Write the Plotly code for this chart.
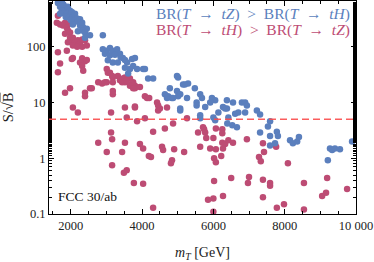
import plotly.graph_objects as go

# Blue: BR(T->tZ) > BR(T->tH)
blue_m = [1640, 1750, 1700, 1800, 1860, 1750, 1920, 1980, 1800, 1890, 1980, 2030, 1860, 1950, 2060, 2000, 2120, 1700, 2120, 1780,
          2180, 2200, 2060, 2260, 2340, 2450, 2320, 2400, 2200, 2540, 2400, 2900, 2260, 2320,
          2900, 3010, 3100, 3180, 3300, 3380, 2960, 3100, 3240, 3040, 3180, 3320, 3460, 3580, 3720, 3800, 3750, 3660, 3860, 4030,
          3610, 4170, 3520, 4080, 4310, 3400, 3520,
          4980, 5010, 5150, 5290, 4780, 4980, 5010, 4640, 4830, 4700, 5260, 4730, 4870, 5070, 5200, 5070,
          5480, 5630, 5680, 5530, 5960, 6050, 5910, 6380, 6550, 6800, 6890, 6270, 6380, 5770, 5530, 5070, 5630, 5630, 6000, 6050,
          6140, 6330, 6420, 6390, 6530, 6660, 6610, 6700, 6890, 6940, 7220, 7310,
          7590, 7530, 7310, 7590, 7780, 7810, 7730, 7590, 8150, 8230, 8350, 8400,
          9210, 9270, 9330, 9410, 9550, 9890]
blue_s = [610, 630, 520, 560, 470, 450, 520, 440, 400, 390, 370, 420, 340, 330, 340, 300, 390, 390, 300, 580,
          320, 280, 250, 240, 225, 210, 195, 180, 190, 160, 145, 160, 310, 270,
          90, 85, 95, 85, 90, 75, 75, 70, 72, 57, 52, 52, 63, 52, 60, 63, 45, 40, 40, 40,
          33, 27, 42, 40, 27, 65, 58,
          30, 28, 21, 22, 18, 16, 13, 14, 12, 12, 12, 13, 12, 14, 21, 7.8,
          18, 14, 12, 10, 12, 11, 10, 11, 10, 10, 10, 8.3, 7.8, 8.3, 8.8, 7.2, 5.9, 5.2, 5.4, 4.8,
          6.6, 7.8, 5.4, 4.2, 3.9, 3.6, 6.3, 6.6, 6.6, 8.8, 7.2, 6.1,
          4.6, 3.7, 2.9, 2.5, 3.0, 2.5, 1.85, 1.7, 2.1, 1.85, 2.0, 2.4,
          0.92, 1.5, 1.4, 1.5, 1.45, 2.0]

# Red: BR(T->tH) > BR(T->tZ)
red_m = [1640, 1610, 1700, 1840, 1920, 1780, 1890, 1920, 1840, 1980, 1980, 2060, 2030, 1920, 2120, 2200, 2060, 2260, 2180, 2320,
         2400, 2450, 2320,
         1640, 1890, 1700, 1640, 2060, 2030, 2320, 2400, 2450, 2260, 2320, 2350,
         2540, 2590, 2400, 2400, 1980, 1840, 2060, 2200,
         2880, 3010, 2960, 3180, 3180, 3010, 3100, 3040, 3180, 3320, 3160, 3380, 3460, 3520, 3440, 3520, 3660, 3750, 3800, 3940,
         3800, 3720, 3570, 3660, 3750, 3180, 2770,
         3800, 4140, 4080, 4420, 4500, 4200, 4450, 4450, 4700,
         3130, 3520, 3800, 3570, 3860, 4080, 5260,
         3130, 3160, 2770, 3010, 3520, 3440, 3940, 4030, 4190, 4250, 3160, 3570, 3490, 3770, 4030, 4310,
         4310, 4640, 4870, 5570, 5710, 5740, 5770, 5800, 6070, 6250, 6250, 6000, 6250, 6330, 6420, 6550, 5630, 5910, 6070, 6270,
         4560, 4590, 4900, 5180, 4840, 4810, 6220, 6020, 6070,
         6500, 6020, 7000, 6970, 6270, 6000, 5850, 6000,
         6940, 7390, 7420, 7280, 7330, 7760, 8090, 7390, 7590, 7590, 7390, 7780, 7980, 8540, 8540, 9190, 9050, 9160, 9750]
red_s = [360, 270, 250, 270, 250, 240, 220, 195, 170, 180, 145, 145, 130, 120, 120, 130, 105, 115, 100, 100,
         130, 105, 135,
         80, 85, 50, 35, 63, 60, 62, 55, 58, 52, 45, 37,
         18, 18, 15, 13, 18, 15, 8.1, 6.6,
         22, 23, 23, 16, 14, 40, 34, 34, 28, 30, 30, 25, 27, 23, 23, 28, 27, 23, 20, 19,
         18, 22, 25, 20, 18, 23, 23,
         8.1, 12, 13, 10, 7.8, 12, 8.8, 7.2, 8.1,
         6.6, 8.1, 8.5, 5.4, 4.6, 5.2, 5.2,
         2.9, 2.2, 1.9, 1.3, 1.9, 1.3, 1.8, 1.5, 1.1, 1.05, 0.75, 0.61, 0.55, 0.36, 0.35, 0.13,
         3.0, 3.4, 4.2, 2.9, 3.6, 3.3, 2.9, 2.3, 3.4, 3.3, 2.8, 2.3, 1.9, 1.8, 2.1, 1.9, 1.6, 1.5, 1.45, 1.5,
         1.6, 1.4, 1.45, 1.3, 0.92, 0.81, 1.1, 1.0, 0.85,
         0.44, 0.39, 0.46, 0.36, 0.21, 0.19, 0.18, 0.11,
         2.2, 1.85, 1.3, 1.05, 0.88, 1.6, 0.81, 0.41, 0.36, 0.32, 0.2, 0.13, 0.15, 0.36, 0.12, 0.44, 0.21, 0.24, 0.28]

threshold = 5
x_ticks = [2000, 4000, 6000, 8000, 10000]
x_labels = ["2000", "4000", "6000", "8000", "10 000"]
y_ticks = [0.1, 1, 10, 100]
y_labels = ["0.1", "1", "10", "100"]
legend_blue = "BR(<i>T</i>\u2002→\u2002<i>tZ</i>)\u2002>\u2002BR(<i>T</i>\u2002→\u2002<i>tH</i>)"
legend_red = "BR(<i>T</i>\u2002→\u2002<i>tH</i>)\u2002>\u2002BR(<i>T</i>\u2002→\u2002<i>tZ</i>)"

BLUE = "#5b7fbd"
RED = "#bd4c74"
FONT = "Liberation Serif"
TXT = "#222222"

fig = go.Figure()
fig.add_trace(go.Scatter(x=red_m, y=red_s, mode="markers",
                         marker=dict(color=RED, size=6.5), showlegend=False))
fig.add_trace(go.Scatter(x=blue_m, y=blue_s, mode="markers",
                         marker=dict(color=BLUE, size=6.5), showlegend=False))

fig.add_shape(type="line", xref="paper", yref="y", x0=0, x1=1, y0=threshold, y1=threshold,
              line=dict(color="rgba(250,75,75,0.9)", width=1.5, dash="7px,4px"))

axis_common = dict(showgrid=False, zeroline=False, showline=True, linecolor="black", linewidth=1,
                   mirror="ticks", ticks="inside", ticklen=5, tickcolor="black",
                   tickfont=dict(family=FONT, size=12.5, color=TXT))

fig.update_xaxes(range=[1390, 10000], tickvals=x_ticks, ticktext=x_labels, ticklabeloverflow="allow",
                 minor=dict(ticks="inside", ticklen=3, dtick=500, tickcolor="black"),
                 title=dict(text="<i>m</i><sub><i>T</i></sub> [GeV]", font=dict(family=FONT, size=14, color=TXT), standoff=15),
                 **axis_common)
fig.update_yaxes(type="log", range=[-1, 2.82], tickvals=y_ticks, ticktext=y_labels,
                 minor=dict(ticks="inside", ticklen=3, tickcolor="black", showgrid=False),
                 title=dict(text="S/√<span style='text-decoration:overline'>B</span>",
                            font=dict(family=FONT, size=14.5, color=TXT), standoff=10),
                 **axis_common)

fig.add_annotation(x=1, y=1, xref="paper", yref="paper", xanchor="right", yanchor="middle",
                   xshift=-4, yshift=-13, showarrow=False, text=legend_blue,
                   font=dict(family=FONT, size=15.5, color=BLUE))
fig.add_annotation(x=1, y=1, xref="paper", yref="paper", xanchor="right", yanchor="middle",
                   xshift=-4, yshift=-29, showarrow=False, text=legend_red,
                   font=dict(family=FONT, size=15.5, color=RED))
fig.add_annotation(x=0, y=0, xref="paper", yref="paper", xanchor="left", yanchor="bottom",
                   xshift=7, yshift=8, showarrow=False, text="FCC 30/ab",
                   font=dict(family=FONT, size=13.5, color="#111"))

fig.update_layout(width=374, height=262, margin=dict(l=49, r=18, t=1, b=48),
                  paper_bgcolor="white", plot_bgcolor="white")

fig.write_html("out.html", config={"displayModeBar": False},
               post_script="document.body.style.margin='0';")
